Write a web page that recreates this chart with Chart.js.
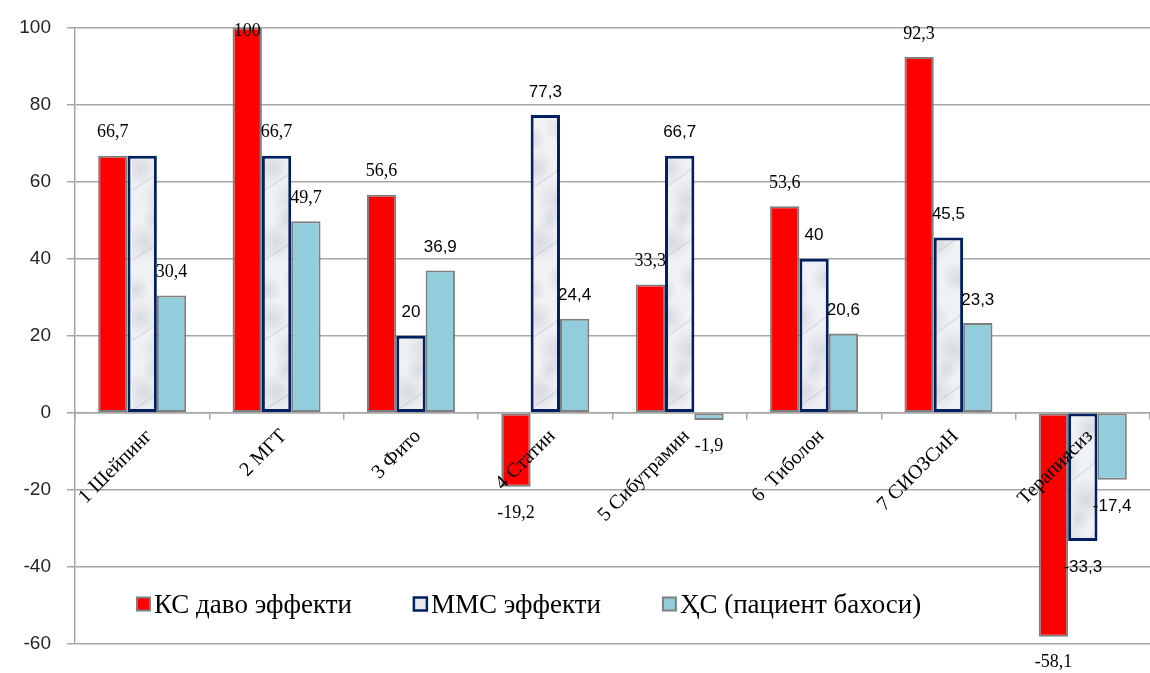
<!DOCTYPE html>
<html>
<head>
<meta charset="utf-8">
<script src="https://cdn.jsdelivr.net/npm/chart.js@4.4.1/dist/chart.umd.min.js"></script>
<style>
  html, body { margin: 0; padding: 0; background: #ffffff; overflow: hidden; }
  #wrap { position: relative; width: 1150px; height: 673px; }
</style>
</head>
<body>
<div id="wrap"><canvas id="c" width="1150" height="673"></canvas></div>
<script>
// Therapy groups and their effect scores (%)
const categories = ['1 Шейпинг', '2 МГТ', '3 Фито', '4 Статин', '5 Сибутрамин', '6  Тиболон', '7 СИОЗСиН', 'Терапиясиз'];
const ksValues  = [66.7, 100, 56.6, -19.2, 33.3, 53.6, 92.3, -58.1];
const mmsValues = [66.7, 66.7, 20, 77.3, 66.7, 40, 45.5, -33.3];
const hsValues  = [30.4, 49.7, 36.9, 24.4, -1.9, 20.6, 23.3, -17.4];
const seriesNames = ['КС даво эффекти', 'ММС эффекти', 'ҲС (пациент бахоси)'];
const yMin = -60, yMax = 100, yStep = 20;

// Value labels that are not printed on the chart (series index -> point indices)
const hiddenLabels = { 1: [0] };
// Value labels set in the serif face; the rest use a sans face
const serifLabels = { 0: [0, 1, 2, 3, 4, 5, 6, 7], 1: [0, 1], 2: [0, 1, 4] };

const SERIF = '"Liberation Serif"';
const SANS = '"Liberation Sans", Arial, sans-serif';
const GRID = '#a6a6a6';

// Soft grey marble texture for the ММС bars
function marblePattern() {
  const c = document.createElement('canvas');
  c.width = 44; c.height = 150;
  const g = c.getContext('2d');
  g.fillStyle = '#f0f1f4';
  g.fillRect(0, 0, c.width, c.height);
  const spots = [[8, 18, 18], [30, 50, 22], [12, 92, 20], [34, 128, 16], [22, 70, 12], [4, 140, 14]];
  spots.forEach(([x, y, r]) => {
    const rg = g.createRadialGradient(x, y, 0, x, y, r);
    rg.addColorStop(0, 'rgba(160,166,176,0.30)');
    rg.addColorStop(1, 'rgba(160,166,176,0)');
    g.fillStyle = rg;
    g.fillRect(0, 0, c.width, c.height);
  });
  g.strokeStyle = 'rgba(150,156,168,0.18)';
  g.lineWidth = 2;
  g.beginPath(); g.moveTo(0, 40); g.quadraticCurveTo(20, 30, 44, 8); g.stroke();
  g.beginPath(); g.moveTo(0, 110); g.quadraticCurveTo(24, 96, 44, 80); g.stroke();
  return g.createPattern(c, 'repeat');
}
const marble = marblePattern();

const fmt = v => String(v).replace('.', ',');

// Value labels above (or below) each bar end
const valueLabels = {
  id: 'valueLabels',
  afterDatasetsDraw(chart) {
    const ctx = chart.ctx;
    const area = chart.chartArea;
    ctx.save();
    ctx.fillStyle = '#000';
    ctx.textAlign = 'center';
    ctx.textBaseline = 'middle';
    chart.data.datasets.forEach((ds, di) => {
      const meta = chart.getDatasetMeta(di);
      meta.data.forEach((el, i) => {
        if ((hiddenLabels[di] || []).includes(i)) return;
        const v = ds.data[i];
        const serif = (serifLabels[di] || []).includes(i);
        ctx.font = serif ? '18px ' + SERIF : '17px ' + SANS;
        let y = v >= 0 ? el.y - 23 : el.y + 26;
        y = Math.max(y, area.top + 4);
        ctx.fillText(fmt(v), el.x, y);
      });
    });
    ctx.restore();
  }
};

// Legend drawn inside the plot area, near its lower edge
const innerLegend = {
  id: 'innerLegend',
  afterDraw(chart) {
    const ctx = chart.ctx;
    const area = chart.chartArea;
    ctx.save();
    ctx.font = '27px ' + SERIF;
    ctx.textBaseline = 'alphabetic';
    ctx.textAlign = 'left';
    let x = area.left + 62;
    const yc = area.bottom - 40;
    chart.data.datasets.forEach((ds, di) => {
      const box = 13;
      ctx.fillStyle = di === 1 ? '#e6e8ec' : ds.backgroundColor;
      ctx.fillRect(x, yc - box / 2, box, box);
      ctx.lineWidth = di === 1 ? 2.5 : 2;
      ctx.strokeStyle = ds.borderColor;
      ctx.strokeRect(x, yc - box / 2, box, box);
      x += box + 4;
      ctx.fillStyle = '#000';
      ctx.fillText(seriesNames[di], x, yc + 9);
      x += ctx.measureText(seriesNames[di]).width + 62;
    });
    ctx.restore();
  }
};

new Chart(document.getElementById('c'), {
  type: 'bar',
  data: {
    labels: categories,
    datasets: [
      { label: seriesNames[0], data: ksValues, backgroundColor: '#ff0000', borderColor: '#7f7f7f', borderWidth: 2, borderSkipped: false },
      { label: seriesNames[1], data: mmsValues, backgroundColor: marble, borderColor: '#002060', borderWidth: 3, borderSkipped: false },
      { label: seriesNames[2], data: hsValues, backgroundColor: '#92cddc', borderColor: '#7f7f7f', borderWidth: 2, borderSkipped: false }
    ]
  },
  options: {
    responsive: false,
    animation: false,
    layout: { padding: { top: 24, bottom: 29, right: -12, left: 0 } },
    datasets: { bar: { categoryPercentage: 0.655, barPercentage: 1 } },
    plugins: { legend: { display: false }, tooltip: { enabled: false } },
    scales: {
      x: {
        type: 'category',
        position: { y: 0 },
        afterFit(scale) { scale.height = 0; },
        grid: { drawOnChartArea: false, drawTicks: true, tickLength: 6, color: GRID, lineWidth: 1.5, offset: true },
        border: { display: true, color: GRID, width: 1.5 },
        ticks: {
          z: 1,
          autoSkip: false, minRotation: 45, maxRotation: 45,
          font: { family: SERIF, size: 20 }, color: '#000',
          padding: 6, labelOffset: 7
        }
      },
      y: {
        min: yMin, max: yMax,
        afterFit(scale) { scale.width = 75; },
        grid: { color: GRID, lineWidth: 1.5, tickLength: 8 },
        border: { color: GRID, width: 1.5 },
        ticks: { stepSize: yStep, font: { family: SANS, size: 19 }, color: '#262626', padding: 16 }
      }
    }
  },
  plugins: [valueLabels, innerLegend]
});
</script>
</body>
</html>
